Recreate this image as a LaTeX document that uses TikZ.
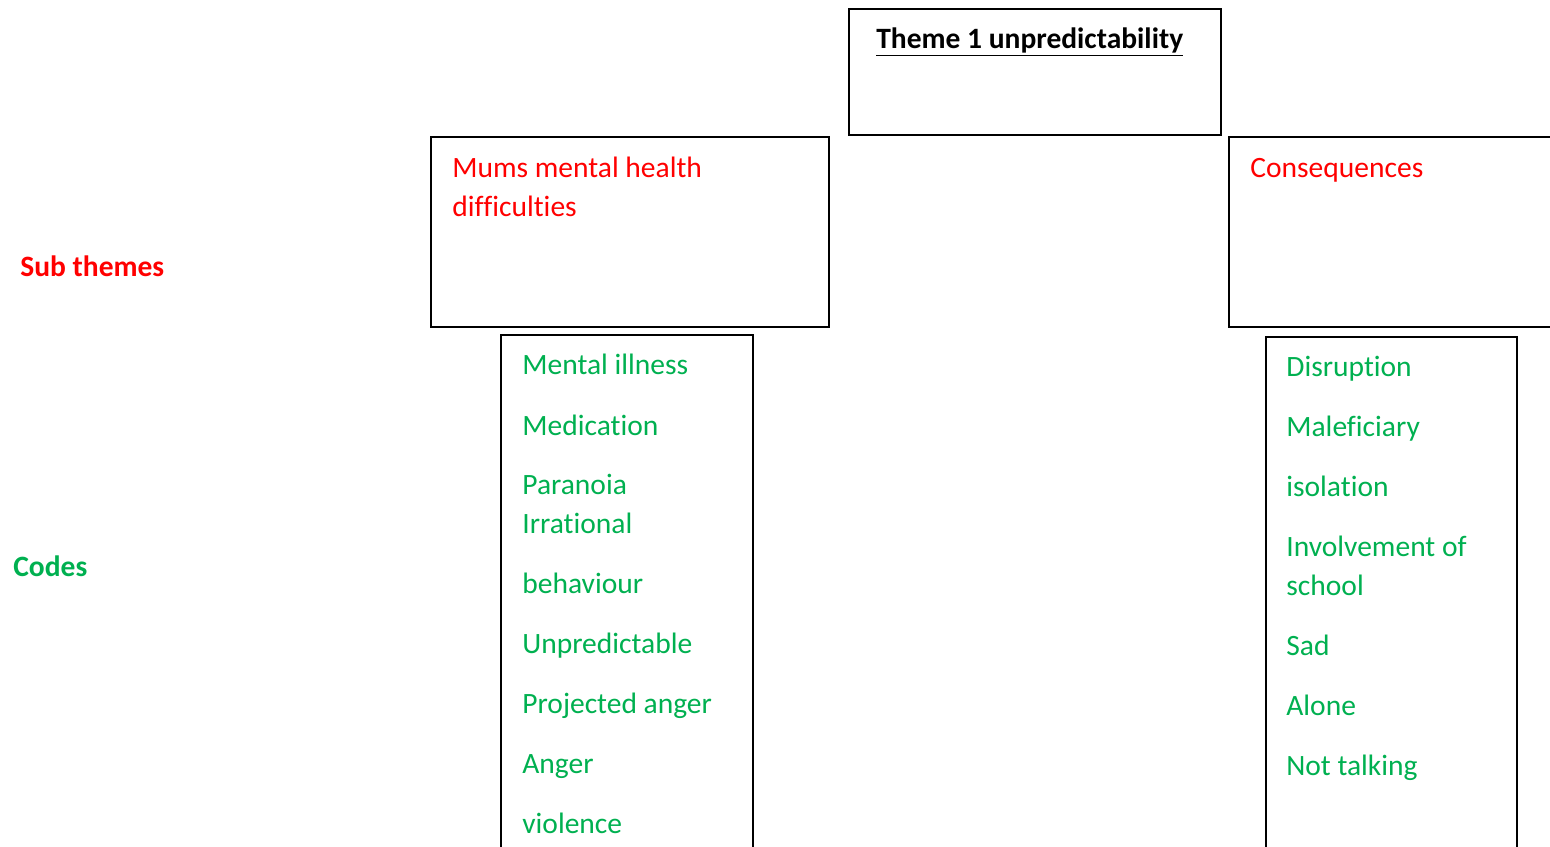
\documentclass[tikz,border=0pt]{standalone}
\usepackage{fontspec}
\setmainfont{Carlito}[Ligatures=NoCommon]
\definecolor{subred}{HTML}{FF0000}
\definecolor{codegreen}{HTML}{00B050}
\tikzset{
  box/.style={draw=black, line width=1.2pt},
  txt/.style={anchor=base west, inner sep=0pt, font=\fontsize{16.8}{20}\selectfont},
  subtxt/.style={txt, text=subred},
  codetxt/.style={txt, text=codegreen},
}
\begin{document}
\begin{tikzpicture}[x=0.02cm, y=-0.02cm]
 \useasboundingbox (0,0) rectangle (1550,846);
 \clip (0,0) rectangle (1550,846);

 %corners of boxes
 \coordinate (T1) at (849,9);
 \coordinate (T2) at (1221,135);
 \coordinate (M1) at (431,137);
 \coordinate (M2) at (829,327);
 \coordinate (C1) at (1229,137);
 \coordinate (C2) at (1600,327);
 \coordinate (L1) at (501,335);
 \coordinate (L2) at (753,900);
 \coordinate (R1) at (1266,337);
 \coordinate (R2) at (1517,900);

 %draw boxes
 \draw [box] (T1) rectangle (T2);
 \draw [box] (M1) rectangle (M2);
 \draw [box] (C1) rectangle (C2);
 \draw [box] (L1) rectangle (L2);
 \draw [box] (R1) rectangle (R2);

 %theme and sub themes
 \node [txt, font=\fontsize{16.8}{20}\selectfont\bfseries] (theme) at (876,48) {\underline{Theme 1 unpredictability}};
 \node [subtxt] (mums) at (452,177) {Mums mental health};
 \node [subtxt] (mums2) at (452,216) {difficulties};
 \node [subtxt] (conseq) at (1250,177) {Consequences};

 %row labels
 \node [subtxt, font=\fontsize{16.8}{20}\selectfont\bfseries] (subthemes) at (20,276) {Sub themes};
 \node [codetxt, font=\fontsize{16.8}{20}\selectfont\bfseries] (codes) at (13,576) {Codes};

 %codes for mums mental health
 \node [codetxt] (ill) at (522,374) {Mental illness};
 \node [codetxt] (med) at (522,435) {Medication};
 \node [codetxt] (para) at (522,494) {Paranoia};
 \node [codetxt] (irr) at (522,533) {Irrational};
 \node [codetxt] (beh) at (522,593) {behaviour};
 \node [codetxt] (unp) at (522,653) {Unpredictable};
 \node [codetxt] (proj) at (522,713) {Projected anger};
 \node [codetxt] (ang) at (522,773) {Anger};
 \node [codetxt] (viol) at (522,833) {violence};

 %codes for consequences
 \node [codetxt] (dis) at (1286,376) {Disruption};
 \node [codetxt] (mal) at (1286,436) {Maleficiary};
 \node [codetxt] (iso) at (1286,496) {isolation};
 \node [codetxt] (inv) at (1286,556) {Involvement of};
 \node [codetxt] (sch) at (1286,595) {school};
 \node [codetxt] (sad) at (1286,655) {Sad};
 \node [codetxt] (alo) at (1286,715) {Alone};
 \node [codetxt] (not) at (1286,775) {Not talking};
\end{tikzpicture}
\end{document}
